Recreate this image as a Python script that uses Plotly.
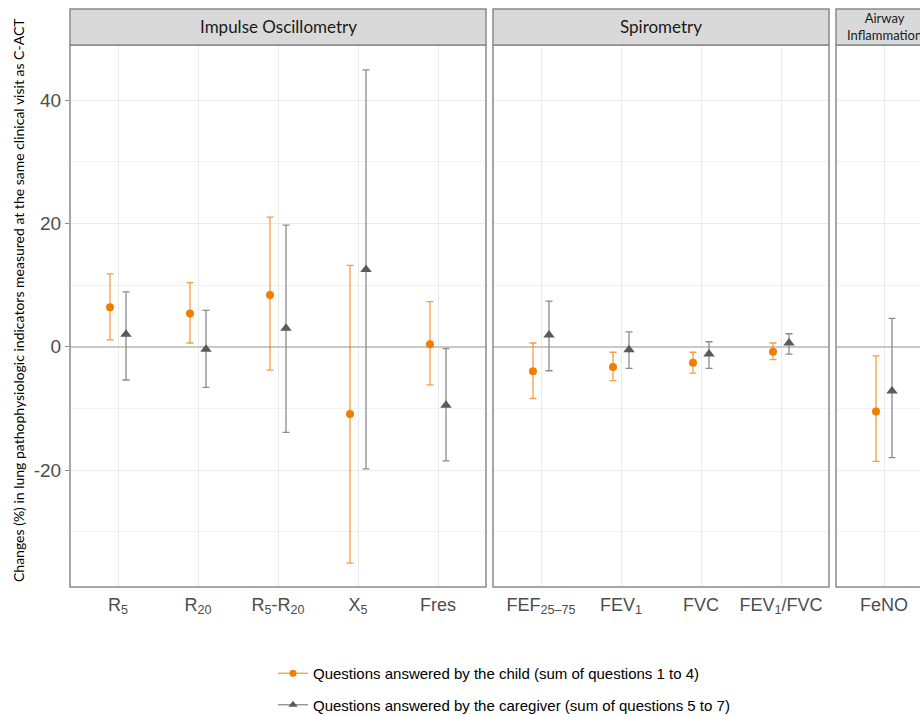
import plotly.graph_objects as go

# ---------------- data ----------------
ios_labels = ["R<sub>5</sub>", "R<sub>20</sub>", "R<sub>5</sub>-R<sub>20</sub>", "X<sub>5</sub>", "Fres"]
ios_child_mean = [6.4, 5.4, 8.4, -10.9, 0.4]
ios_child_low = [1.1, 0.6, -3.8, -35.1, -6.2]
ios_child_high = [11.8, 10.4, 21.0, 13.2, 7.3]
ios_care_mean = [2.0, -0.4, 3.0, 12.5, -9.5]
ios_care_low = [-5.4, -6.6, -13.9, -19.8, -18.5]
ios_care_high = [8.9, 5.9, 19.7, 44.9, -0.3]

spi_labels = ["FEF<sub>25\u201375</sub>", "FEV<sub>1</sub>", "FVC", "FEV<sub>1</sub>/FVC"]
spi_child_mean = [-4.0, -3.3, -2.6, -0.8]
spi_child_low = [-8.4, -5.5, -4.3, -2.1]
spi_child_high = [0.6, -0.9, -0.9, 0.6]
spi_care_mean = [1.9, -0.5, -1.2, 0.6]
spi_care_low = [-3.9, -3.5, -3.5, -1.2]
spi_care_high = [7.4, 2.4, 0.8, 2.1]

air_labels = ["FeNO"]
air_child_mean = [-10.5]
air_child_low = [-18.6]
air_child_high = [-1.5]
air_care_mean = [-7.2]
air_care_low = [-18.0]
air_care_high = [4.6]

panel_titles = ["Impulse Oscillometry", "Spirometry", "Airway<br>Inflammation"]
y_ticks = [-20, 0, 20, 40]
y_ticktext = ["-20", "0", "20", "40"]
legend_names = ["Questions answered by the child (sum of questions 1 to 4)",
                "Questions answered by the caregiver (sum of questions 5 to 7)"]

# ---------------- layout helpers ----------------
W, H = 920, 715
def fx(p):
    return p / W
def fy(p):
    return 1 - p / H

PX_PER_CAT = 80.0
panels = [(70, 486), (493, 829), (836, 932)]
strip_top, top, bottom = 9, 45, 587
y_range = [-(bottom - 346.7) / 6.1675, (346.7 - top) / 6.1675]

ORANGE = "#F07F00"
ORANGE_ERR = "rgba(240,127,0,0.75)"
GREY = "#5a5a5a"
GREY_ERR = "#8c8c8c"
BORDER = "#8a8a8a"
TICKFONT = dict(family="Liberation Sans, Arial, sans-serif", size=18, color="#4d4d4d")

groups = [
    (ios_labels, ios_child_mean, ios_child_low, ios_child_high, ios_care_mean, ios_care_low, ios_care_high),
    (spi_labels, spi_child_mean, spi_child_low, spi_child_high, spi_care_mean, spi_care_low, spi_care_high),
    (air_labels, air_child_mean, air_child_low, air_child_high, air_care_mean, air_care_low, air_care_high),
]

fig = go.Figure()
shapes = []
annotations = []
DODGE = 0.1

for k, (labels, cm, cl, ch, gm, gl, gh) in enumerate(groups):
    suffix = "" if k == 0 else str(k + 1)
    xs = list(range(1, len(labels) + 1))
    fig.add_trace(go.Scatter(
        x=[x - DODGE for x in xs], y=cm, mode="markers",
        marker=dict(color=ORANGE, size=8, symbol="circle"),
        error_y=dict(type="data", symmetric=False,
                     array=[h - m for h, m in zip(ch, cm)],
                     arrayminus=[m - l for m, l in zip(cm, cl)],
                     color=ORANGE_ERR, thickness=1.3, width=3.5),
        xaxis="x" + suffix, yaxis="y" + suffix, showlegend=False))
    fig.add_trace(go.Scatter(
        x=[x + DODGE for x in xs], y=gm, mode="markers",
        marker=dict(color=GREY, size=10, symbol="triangle-up"),
        error_y=dict(type="data", symmetric=False,
                     array=[h - m for h, m in zip(gh, gm)],
                     arrayminus=[m - l for m, l in zip(gm, gl)],
                     color=GREY_ERR, thickness=1.3, width=3.5),
        xaxis="x" + suffix, yaxis="y" + suffix, showlegend=False))

    x0, x1 = panels[k]
    width_units = (min(x1, W) - x0) / PX_PER_CAT
    xaxis = dict(
        domain=[fx(x0), fx(min(x1, W))], anchor="y" + suffix,
        range=[0.4, 0.4 + width_units],
        tickvals=xs, ticktext=labels, tickfont=TICKFONT,
        ticks="outside", ticklen=1, tickcolor="rgba(0,0,0,0)",
        showgrid=True, gridcolor="#ebebeb", gridwidth=1,
        zeroline=False, showline=False, automargin=False,
    )
    yaxis = dict(
        domain=[fy(bottom), fy(top)], anchor="x" + suffix,
        range=y_range, tickvals=y_ticks, ticktext=y_ticktext,
        showticklabels=(k == 0), tickfont=dict(family="Liberation Sans, Arial, sans-serif", size=19, color="#4d4d4d"),
        ticks="outside" if k == 0 else "", ticklen=4, tickcolor=BORDER,
        showgrid=True, gridcolor="#ebebeb", gridwidth=1,
        minor=dict(tickvals=[-30, -10, 10, 30], showgrid=True, gridcolor="#f2f2f2", gridwidth=1, ticks=""),
        zeroline=True, zerolinecolor="#c8c8c8", zerolinewidth=1.5,
        showline=False, automargin=False,
    )
    if k > 0:
        yaxis["matches"] = "y"
    fig.update_layout(**{"xaxis" + suffix: xaxis, "yaxis" + suffix: yaxis})

    # panel border
    shapes.append(dict(type="rect", xref="paper", yref="paper",
                       x0=fx(x0), x1=fx(x1), y0=fy(bottom), y1=fy(top),
                       line=dict(color=BORDER, width=1.5), fillcolor="rgba(0,0,0,0)", layer="above"))
    # strip
    shapes.append(dict(type="rect", xref="paper", yref="paper",
                       x0=fx(x0), x1=fx(x1), y0=fy(top), y1=fy(strip_top),
                       line=dict(color=BORDER, width=1.5), fillcolor="#d9d9d9", layer="above"))
    small = k == 2
    annotations.append(dict(text=panel_titles[k], xref="paper", yref="paper",
                            x=fx((x0 + x1) / 2), y=fy((strip_top + top) / 2),
                            xanchor="center", yanchor="middle", showarrow=False,
                            font=dict(family="Lato, sans-serif", size=13 if small else 17, color="#1a1a1a")))

annotations.append(dict(
    text="Changes (%) in lung pathophysiologic indicators measured at the same clinical visit as C-ACT",
    xref="paper", yref="paper", x=fx(18), y=fy(300), textangle=-90,
    xanchor="center", yanchor="middle", showarrow=False,
    font=dict(family="Lato, sans-serif", size=14, color="#000000")))

# legend entries
fig.add_trace(go.Scatter(x=[None], y=[None], mode="lines+markers", name=legend_names[0],
                         line=dict(color=ORANGE_ERR, width=1.3),
                         marker=dict(color=ORANGE, size=7, symbol="circle"),
                         legendgroup="a", showlegend=True))
fig.add_trace(go.Scatter(x=[None], y=[None], mode="lines+markers", name=legend_names[1],
                         line=dict(color=GREY_ERR, width=1.3),
                         marker=dict(color=GREY, size=8, symbol="triangle-up"),
                         legendgroup="b", showlegend=True))

fig.update_layout(
    width=W, height=H,
    margin=dict(l=0, r=0, t=0, b=0, autoexpand=False),
    paper_bgcolor="white", plot_bgcolor="white",
    shapes=shapes, annotations=annotations,
    legend=dict(x=fx(273), y=fy(657), xanchor="left", yanchor="top",
                orientation="v", traceorder="grouped", tracegroupgap=9,
                font=dict(family="Liberation Sans, Arial, sans-serif", size=15, color="#000000"),
                bgcolor="rgba(0,0,0,0)"),
    showlegend=True,
)

fig.write_html("out.html", config={"displayModeBar": False},
               post_script="document.body.style.margin='0';document.body.style.overflow='hidden';")
